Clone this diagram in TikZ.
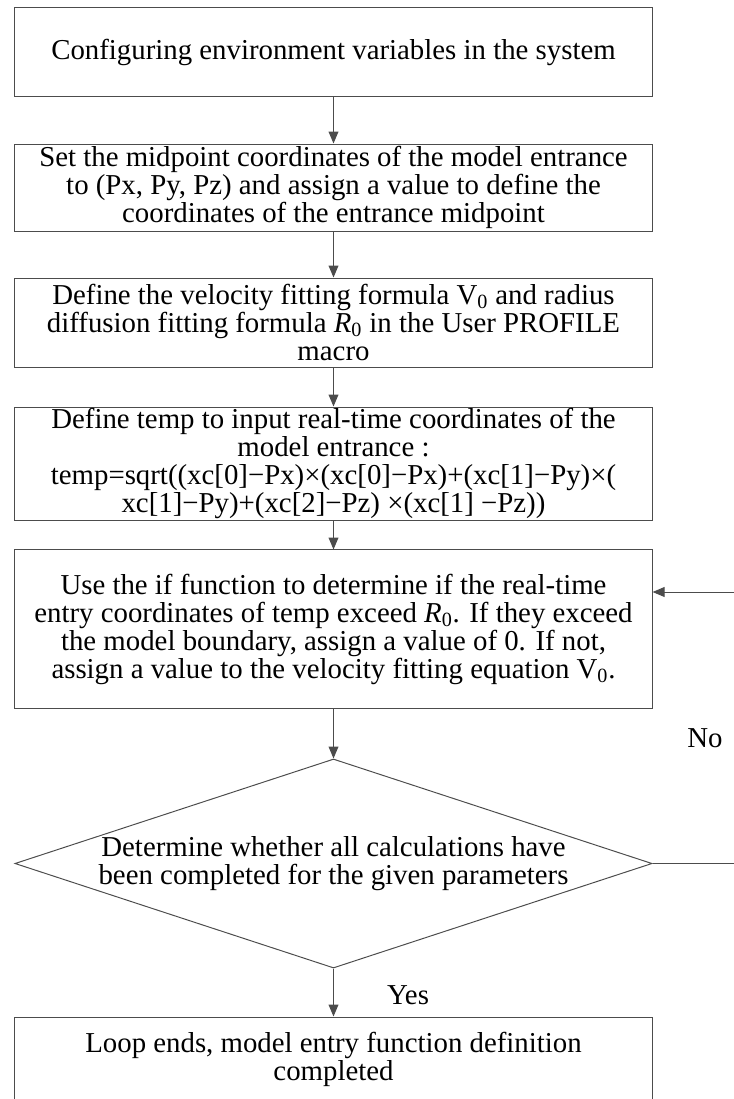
\documentclass[tikz,border=0pt]{standalone}
\usepackage{fontspec}
\setmainfont{Liberation Serif}
\usetikzlibrary{arrows.meta,shapes.geometric}

\begin{document}
\begin{tikzpicture}[x=0.025cm, y=-0.025cm,
    font=\fontsize{20.5pt}{19.9pt}\selectfont,
    block/.style={rectangle, draw=black!70, line width=0.7pt, minimum width=15.925cm, align=center, inner sep=0pt},
    check/.style={diamond, draw=black!70, line width=0.7pt, aspect=3.05, minimum width=15.925cm, minimum height=5.225cm, inner sep=0pt, align=center},
    flow/.style={-{Triangle[width=7pt,length=8.5pt]}, draw=black!70, line width=0.7pt}]
    \useasboundingbox (0,0) rectangle (733,1099);

    \node[block, minimum height=2.2cm]   (env)  at (333.5,52)    {Configuring environment variables in the system};
    \node[block, minimum height=2.175cm] (mid)  at (333.5,187.5) {Set the midpoint coordinates of the model entrance\\ to (Px, Py, Pz) and assign a value to define the\\ coordinates of the entrance midpoint};
    \node[block, minimum height=2.225cm] (fit)  at (333.5,322.5) {Define the velocity fitting formula V\textsubscript{0} and radius\\ diffusion fitting formula \textit{R}\textsubscript{0} in the User PROFILE\\ macro};
    \node[block, minimum height=2.825cm] (temp) at (333.5,463.5) {Define temp to input real-time coordinates of the\\ model entrance :\\ temp=sqrt((xc[0]−Px)×(xc[0]−Px)+(xc[1]−Py)×(\\ xc[1]−Py)+(xc[2]−Pz) ×(xc[1] −Pz))};
    \node[block, minimum height=3.95cm]  (iff)  at (333.5,629)   {Use the if function to determine if the real-time\\ entry coordinates of temp exceed \textit{R}\textsubscript{0}. If they exceed\\ the model boundary, assign a value of 0. If not,\\ assign a value to the velocity fitting equation V\textsubscript{0}.};
    \node[check]                         (done) at (333.5,863.5) {Determine whether all calculations have\\ been completed for the given parameters};
    \node[block, minimum height=2.1cm]   (end)  at (333.5,1059)  {Loop ends, model entry function definition\\ completed};

    \node (no)  at (705,738) {No};
    \node (yes) at (408,995) {Yes};
    \coordinate (back) at (745,592);

    \draw[flow] (env) -- (mid);
    \draw[flow] (mid) -- (fit);
    \draw[flow] (fit) -- (temp);
    \draw[flow] (temp) -- (iff);
    \draw[flow] (iff) -- (done);
    \draw[flow] (done) -- (end);
    \draw[flow] (done.east) -| (back) -- (back -| iff.east);
\end{tikzpicture}
\end{document}
